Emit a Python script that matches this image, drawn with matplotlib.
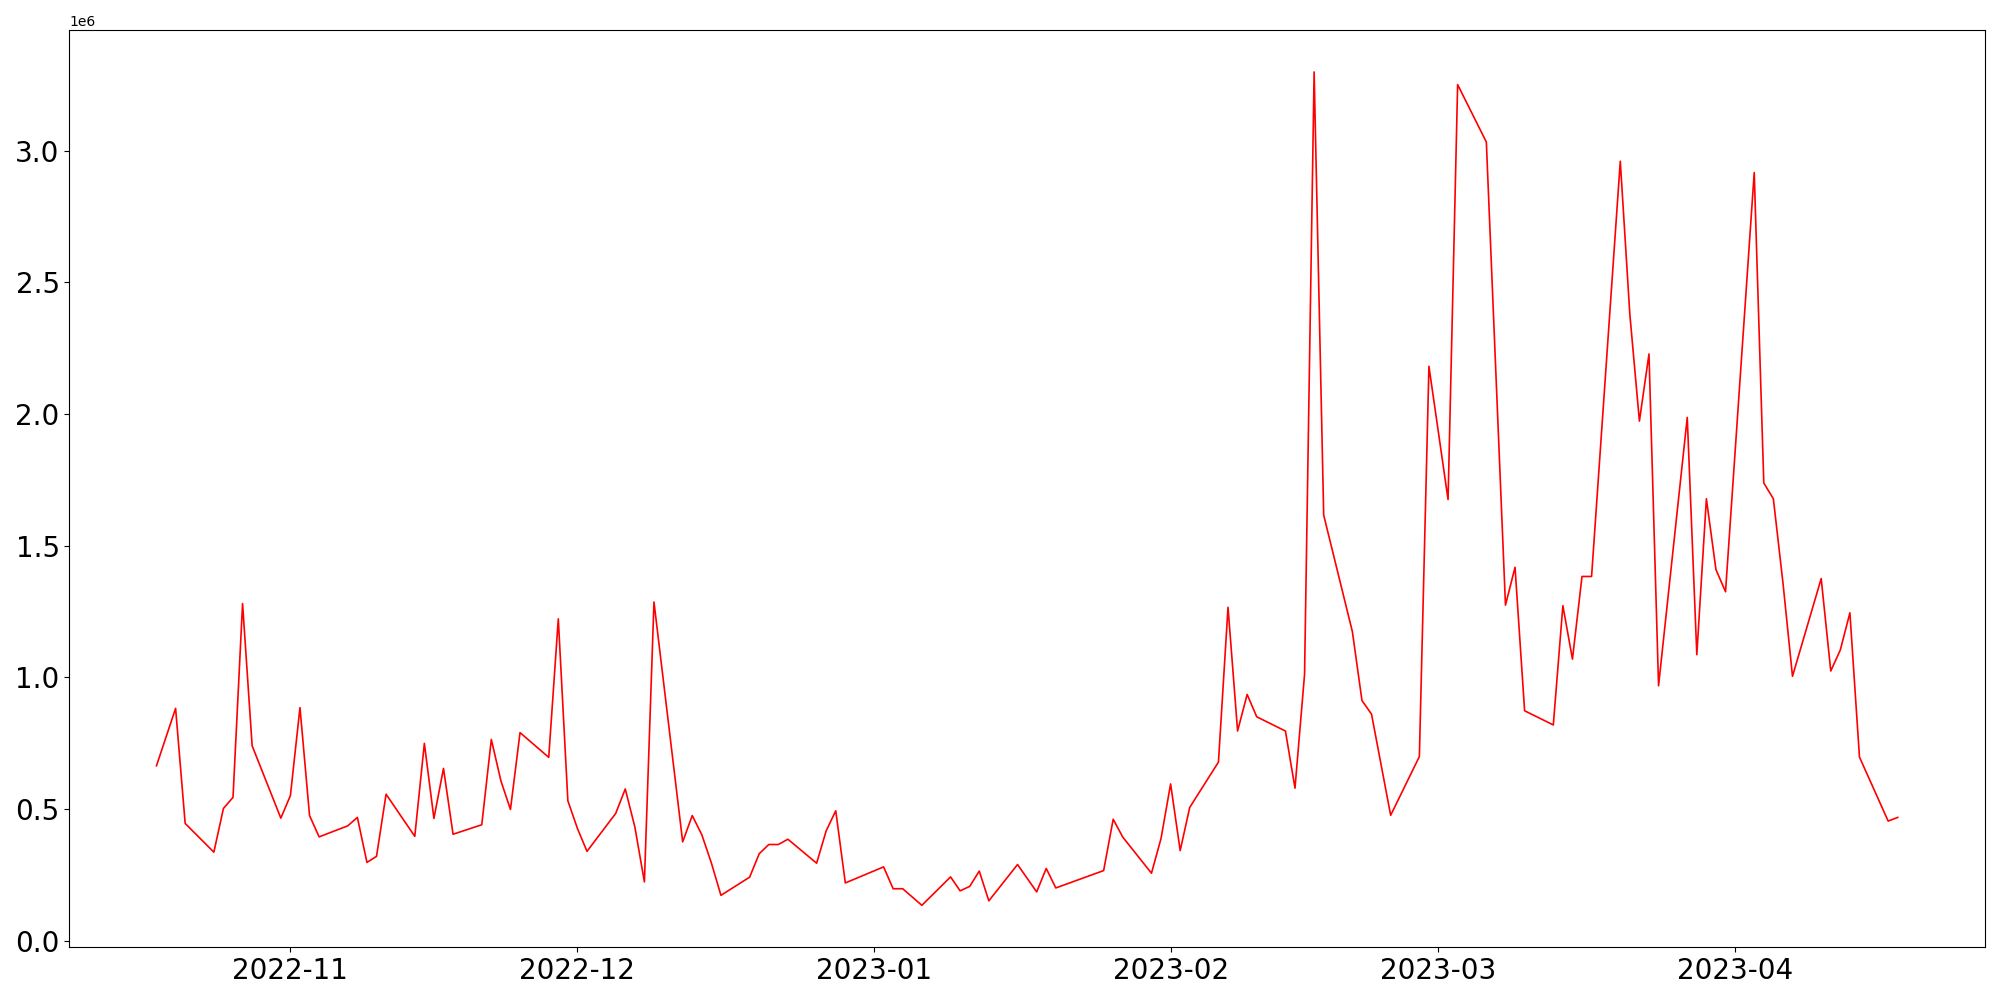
import matplotlib
matplotlib.use("Agg")
import matplotlib.pyplot as plt
import pandas as pd

dates = [
    "2022-10-18", "2022-10-20", "2022-10-21", "2022-10-24", "2022-10-25", "2022-10-26", "2022-10-27", "2022-10-28",
    "2022-10-31", "2022-11-01", "2022-11-02", "2022-11-03", "2022-11-04",
    "2022-11-07", "2022-11-08", "2022-11-09", "2022-11-10", "2022-11-11",
    "2022-11-14", "2022-11-15", "2022-11-16", "2022-11-17", "2022-11-18",
    "2022-11-21", "2022-11-22", "2022-11-23", "2022-11-24", "2022-11-25",
    "2022-11-28", "2022-11-29", "2022-11-30", "2022-12-01", "2022-12-02",
    "2022-12-05", "2022-12-06", "2022-12-07", "2022-12-08", "2022-12-09",
    "2022-12-12", "2022-12-13", "2022-12-14", "2022-12-15", "2022-12-16",
    "2022-12-19", "2022-12-20", "2022-12-21", "2022-12-22", "2022-12-23",
    "2022-12-26", "2022-12-27", "2022-12-28", "2022-12-29",
    "2023-01-02", "2023-01-03", "2023-01-04", "2023-01-06",
    "2023-01-09", "2023-01-10", "2023-01-11", "2023-01-12", "2023-01-13",
    "2023-01-16", "2023-01-18", "2023-01-19", "2023-01-20",
    "2023-01-25", "2023-01-26", "2023-01-27",
    "2023-01-30", "2023-01-31", "2023-02-01", "2023-02-02", "2023-02-03",
    "2023-02-06", "2023-02-07", "2023-02-08", "2023-02-09", "2023-02-10",
    "2023-02-13", "2023-02-14", "2023-02-15", "2023-02-16", "2023-02-17",
    "2023-02-20", "2023-02-21", "2023-02-22", "2023-02-24",
    "2023-02-27", "2023-02-28", "2023-03-02", "2023-03-03",
    "2023-03-06", "2023-03-08", "2023-03-09", "2023-03-10",
    "2023-03-13", "2023-03-14", "2023-03-15", "2023-03-16", "2023-03-17",
    "2023-03-20", "2023-03-21", "2023-03-22", "2023-03-23", "2023-03-24",
    "2023-03-27", "2023-03-28", "2023-03-29", "2023-03-30", "2023-03-31",
    "2023-04-03", "2023-04-04", "2023-04-05", "2023-04-06", "2023-04-07",
    "2023-04-10", "2023-04-11", "2023-04-12", "2023-04-13", "2023-04-14",
    "2023-04-17", "2023-04-18",
]

values_m = [
    0.664, 0.882, 0.445, 0.336, 0.502, 0.544, 1.280, 0.740,
    0.465, 0.551, 0.885, 0.475, 0.394,
    0.436, 0.468, 0.297, 0.320, 0.556,
    0.396, 0.749, 0.464, 0.654, 0.404,
    0.440, 0.764, 0.607, 0.498, 0.790,
    0.696, 1.222, 0.531, 0.426, 0.339,
    0.483, 0.576, 0.432, 0.223, 1.286,
    0.375, 0.475, 0.402, 0.295, 0.172,
    0.241, 0.330, 0.365, 0.365, 0.385,
    0.294, 0.417, 0.493, 0.219,
    0.280, 0.197, 0.197, 0.134,
    0.242, 0.189, 0.206, 0.264, 0.151,
    0.289, 0.185, 0.274, 0.200,
    0.266, 0.461, 0.393,
    0.256, 0.388, 0.595, 0.342, 0.506,
    0.678, 1.266, 0.796, 0.935, 0.850,
    0.796, 0.579, 1.011, 3.299, 1.616,
    1.173, 0.912, 0.860, 0.476,
    0.699, 2.181, 1.675, 3.251,
    3.033, 1.274, 1.418, 0.873,
    0.819, 1.272, 1.069, 1.383, 1.383,
    2.960, 2.378, 1.973, 2.228, 0.968,
    1.987, 1.086, 1.678, 1.409, 1.325,
    2.917, 1.738, 1.678, 1.360, 1.004,
    1.375, 1.024, 1.104, 1.245, 0.697,
    0.454, 0.468,
]

x = pd.to_datetime(dates)
y = [v * 1e6 for v in values_m]

fig = plt.figure(figsize=(20, 10), dpi=100)
ax = fig.add_axes([0.0347, 0.053, 0.9577, 0.9167])
ax.plot(x, y, color="red", linewidth=1.2)
ax.tick_params(axis="both", labelsize=20)
fig.savefig("out.png", dpi=100)
